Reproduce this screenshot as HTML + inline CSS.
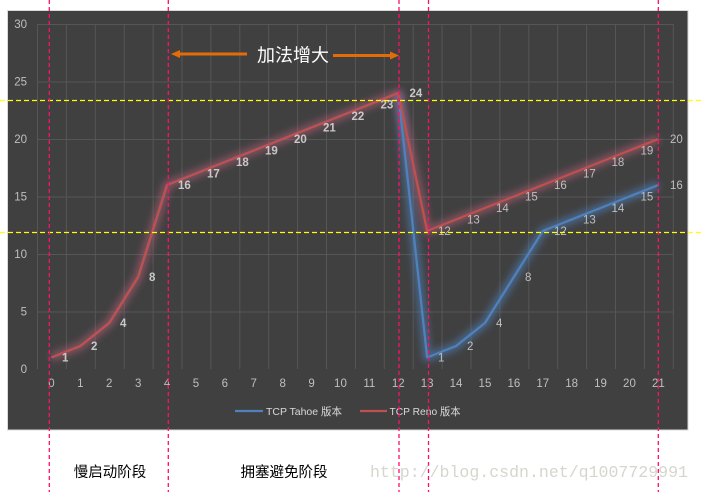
<!DOCTYPE html>
<html><head><meta charset="utf-8"><style>
html,body{margin:0;padding:0;background:#fff;}
svg{display:block;}
</style></head><body>
<svg width="701" height="492" viewBox="0 0 701 492" xmlns="http://www.w3.org/2000/svg">
<defs>
<filter id="glow" x="-20%" y="-20%" width="140%" height="140%"><feGaussianBlur stdDeviation="3.5"/></filter>
</defs>
<rect x="0" y="0" width="701" height="492" fill="#fff"/>
<rect x="7.5" y="10.5" width="680.5" height="419.5" fill="#404040" stroke="#d9d9d9" stroke-width="1"/>
<!-- grid -->
<g stroke="#565656" stroke-width="1" fill="none">
<path d="M37 24.5H673M37 82H673M37 139.5H673M37 197H673M37 254.5H673M37 312H673"/>
<path d="M37.5 24V369M66.4 24V369M95.3 24V369M124.2 24V369M153.1 24V369M182 24V369M210.9 24V369M239.8 24V369M268.7 24V369M297.6 24V369M326.5 24V369M355.4 24V369M384.3 24V369M413.2 24V369M442.1 24V369M471 24V369M499.9 24V369M528.8 24V369M557.7 24V369M586.6 24V369M615.5 24V369M644.4 24V369M673.3 24V369"/>
</g>
<!-- y labels -->
<g font-family="Liberation Sans, sans-serif" font-size="11.5" fill="#bfbfbf" text-anchor="end">
<text x="27" y="28">30</text><text x="27" y="85.5">25</text><text x="27" y="143">20</text><text x="27" y="200.5">15</text><text x="27" y="258">10</text><text x="27" y="315.5">5</text><text x="27" y="373">0</text>
</g>
<!-- x labels -->
<g font-family="Liberation Sans, sans-serif" font-size="11.5" fill="#bfbfbf" text-anchor="middle">
<text x="51.45" y="387">0</text><text x="80.35" y="387">1</text><text x="109.25" y="387">2</text><text x="138.15" y="387">3</text><text x="167.05" y="387">4</text><text x="195.95" y="387">5</text><text x="224.85" y="387">6</text><text x="253.75" y="387">7</text><text x="282.65" y="387">8</text><text x="311.55" y="387">9</text><text x="340.45" y="387">10</text><text x="369.35" y="387">11</text><text x="398.25" y="387">12</text><text x="427.15" y="387">13</text><text x="456.05" y="387">14</text><text x="484.95" y="387">15</text><text x="513.85" y="387">16</text><text x="542.75" y="387">17</text><text x="571.65" y="387">18</text><text x="600.55" y="387">19</text><text x="629.45" y="387">20</text><text x="658.35" y="387">21</text>
</g>
<!-- glows -->
<polyline filter="url(#glow)" fill="none" stroke="#4f81bd" stroke-opacity="0.55" stroke-width="9" stroke-linejoin="round" points="398.25,93 427.15,357.5 456.05,346 484.95,323 513.85,277 542.75,231 571.65,219.5 600.55,208 629.45,196.5 658.35,185"/>
<polyline filter="url(#glow)" fill="none" stroke="#c0607a" stroke-opacity="0.5" stroke-width="9" stroke-linejoin="round" points="51.45,357.5 80.35,346 109.25,323 138.15,277 167.05,185 195.95,173.5 224.85,162 253.75,150.5 282.65,139 311.55,127.5 340.45,116 369.35,104.5 398.25,93 427.15,231 456.05,219.5 484.95,208 513.85,196.5 542.75,185 571.65,173.5 600.55,162 629.45,150.5 658.35,139"/>
<!-- blue series -->
<polyline fill="none" stroke="#4f81bd" stroke-width="2.25" stroke-linejoin="round" points="51.45,357.5 80.35,346 109.25,323 138.15,277 167.05,185 195.95,173.5 224.85,162 253.75,150.5 282.65,139 311.55,127.5 340.45,116 369.35,104.5 398.25,93 427.15,357.5 456.05,346 484.95,323 513.85,277 542.75,231 571.65,219.5 600.55,208 629.45,196.5 658.35,185"/>
<!-- red series -->
<polyline fill="none" stroke="#c0504d" stroke-width="2.25" stroke-linejoin="round" points="51.45,357.5 80.35,346 109.25,323 138.15,277 167.05,185 195.95,173.5 224.85,162 253.75,150.5 282.65,139 311.55,127.5 340.45,116 369.35,104.5 398.25,93 427.15,231 456.05,219.5 484.95,208 513.85,196.5 542.75,185 571.65,173.5 600.55,162 629.45,150.5 658.35,139"/>
<!-- labels bold (shared part) -->
<g font-family="Liberation Sans, sans-serif" font-size="11.5" font-weight="bold" fill="#c8c8c8">
<text x="62" y="361.5">1</text><text x="91" y="350">2</text><text x="120" y="327">4</text><text x="149" y="281">8</text><text x="178" y="189">16</text><text x="207" y="177.5">17</text><text x="236" y="166">18</text><text x="265" y="154.5">19</text><text x="294" y="143">20</text><text x="323" y="131.5">21</text><text x="351.5" y="120">22</text><text x="380.5" y="108.5">23</text><text x="409.5" y="97">24</text>
</g>
<g font-family="Liberation Sans, sans-serif" font-size="11.5" fill="#bfbfbf">
<text x="438" y="235">12</text><text x="467" y="223.5">13</text><text x="496" y="212">14</text><text x="525" y="200.5">15</text><text x="554" y="189">16</text><text x="583" y="177.5">17</text><text x="611.5" y="166">18</text><text x="640.5" y="154.5">19</text><text x="670" y="143">20</text>
<text x="438" y="361.5">1</text><text x="467" y="350">2</text><text x="496" y="327">4</text><text x="525" y="281">8</text><text x="554" y="235">12</text><text x="583" y="223.5">13</text><text x="611.5" y="212">14</text><text x="640.5" y="200.5">15</text><text x="670" y="189">16</text>
</g>
<!-- legend -->
<line x1="235" y1="411" x2="263" y2="411" stroke="#4f81bd" stroke-width="2.25"/>
<line x1="360" y1="411" x2="387" y2="411" stroke="#c0504d" stroke-width="2.25"/>
<g font-family="Liberation Sans, 'Noto Sans CJK SC', sans-serif" font-size="10.5" fill="#d9d9d9">
<text x="266" y="415" textLength="76" lengthAdjust="spacingAndGlyphs">TCP Tahoe 版本</text>
<text x="389.5" y="415" textLength="71" lengthAdjust="spacingAndGlyphs">TCP Reno 版本</text>
</g>
<!-- annotation -->
<g stroke="#e36c09" stroke-width="3" fill="#e36c09">
<line x1="247" y1="54" x2="179" y2="54"/>
<path d="M171 54 L180 50 L180 58 Z" stroke="none"/>
<line x1="333" y1="55.5" x2="391" y2="55.5"/>
<path d="M399 55.5 L390 51.5 L390 59.5 Z" stroke="none"/>
</g>
<text x="293" y="61.5" text-anchor="middle" font-family="'Noto Sans CJK SC', sans-serif" font-size="18" fill="#ffffff">加法增大</text>
<!-- yellow dashed -->
<g stroke="#ffff00" stroke-width="1.3" stroke-dasharray="5,3">
<line x1="0" y1="100.5" x2="701" y2="100.5"/>
<line x1="0" y1="232.5" x2="701" y2="232.5"/>
</g>
<!-- pink dashed -->
<g stroke="#ff0f6a" stroke-width="1.3" stroke-dasharray="4,3">
<line x1="49.3" y1="0" x2="49.3" y2="492"/>
<line x1="168.3" y1="0" x2="168.3" y2="492"/>
<line x1="399" y1="0" x2="399" y2="492"/>
<line x1="428.5" y1="0" x2="428.5" y2="492"/>
<line x1="658.3" y1="0" x2="658.3" y2="492"/>
</g>
<!-- bottom text -->
<g font-family="'Noto Sans CJK SC', sans-serif" font-size="14.5" fill="#000" text-anchor="middle">
<text x="110" y="477">慢启动阶段</text>
<text x="284" y="477">拥塞避免阶段</text>
</g>
<text x="370" y="477" font-family="Liberation Mono, monospace" font-size="16.5" fill="#d6d6ce" textLength="318" lengthAdjust="spacingAndGlyphs">http://blog.csdn.net/q1007729991</text>
</svg>
</body></html>
